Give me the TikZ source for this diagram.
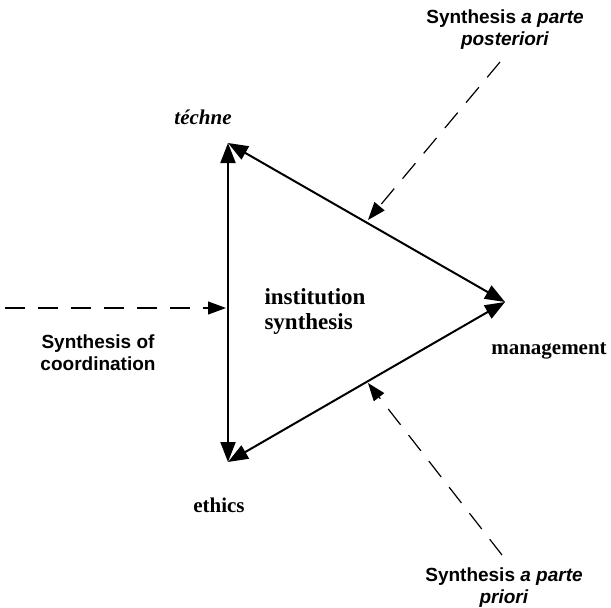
\documentclass[tikz,border=0pt]{standalone}
\usepackage{fontspec}
\setmainfont{Liberation Serif}
\setsansfont{Liberation Sans}
\usepackage{tikz}
\usetikzlibrary{arrows.meta,positioning,calc}

\tikzset{
  edgearrow/.style={line width=2pt, {Triangle[length=20pt,width=15pt]}-{Triangle[length=20pt,width=15pt]}},
  synthline/.style={line width=1.2pt, dash pattern=on 20pt off 13pt, -{Triangle[length=18pt,width=13pt]}},
  pole/.style={font=\fontsize{21}{23}\selectfont\bfseries},
  synthlabel/.style={font=\sffamily\bfseries\fontsize{19}{22}\selectfont, align=center}
}

\begin{document}
\begin{tikzpicture}[x=1pt, y=-1pt]
  \useasboundingbox (0,0) rectangle (611,608);

  % Triangle corners
  \coordinate (techne) at (228,143);
  \coordinate (mgmt) at (505,302);
  \coordinate (eth) at (228,462);

  % Triangle (double headed sides)
  \draw[edgearrow] (eth) -- (techne);
  \draw[edgearrow] (techne) -- (mgmt);
  \draw[edgearrow] (mgmt) -- (eth);

  % Pole labels
  \node[pole, font=\fontsize{21}{23}\selectfont\bfseries\itshape] (lTechne) at (203,117) {téchne};
  \node[pole] (lMgmt) at (549,351) {management};
  \node[pole] (lEth) at (219,505) {ethics};
  \node[pole, font=\fontsize{23}{25}\selectfont\bfseries, align=left] (lInst) at (315,311) {institution\\synthesis};

  % Synthesis labels
  \node[synthlabel] (sPost) at (505,30) {Synthesis \textit{a parte}\\\textit{posteriori}};
  \node[synthlabel] (sCoord) at (98,353) {Synthesis of\\coordination};
  \node[synthlabel] (sPrior) at (504,588) {Synthesis \textit{a parte}\\\textit{priori}};

  % Dashed synthesis arrows
  \coordinate (postStart) at (500,62);
  \coordinate (postEnd) at (368,220);
  \coordinate (coordStart) at (5,308);
  \coordinate (coordEnd) at (226,308);
  \coordinate (priorStart) at (502,555);
  \coordinate (priorEnd) at (368,383);
  \draw[synthline] (postStart) -- (postEnd);
  \draw[synthline] (coordStart) -- (coordEnd);
  \draw[synthline] (priorStart) -- (priorEnd);
\end{tikzpicture}
\end{document}
